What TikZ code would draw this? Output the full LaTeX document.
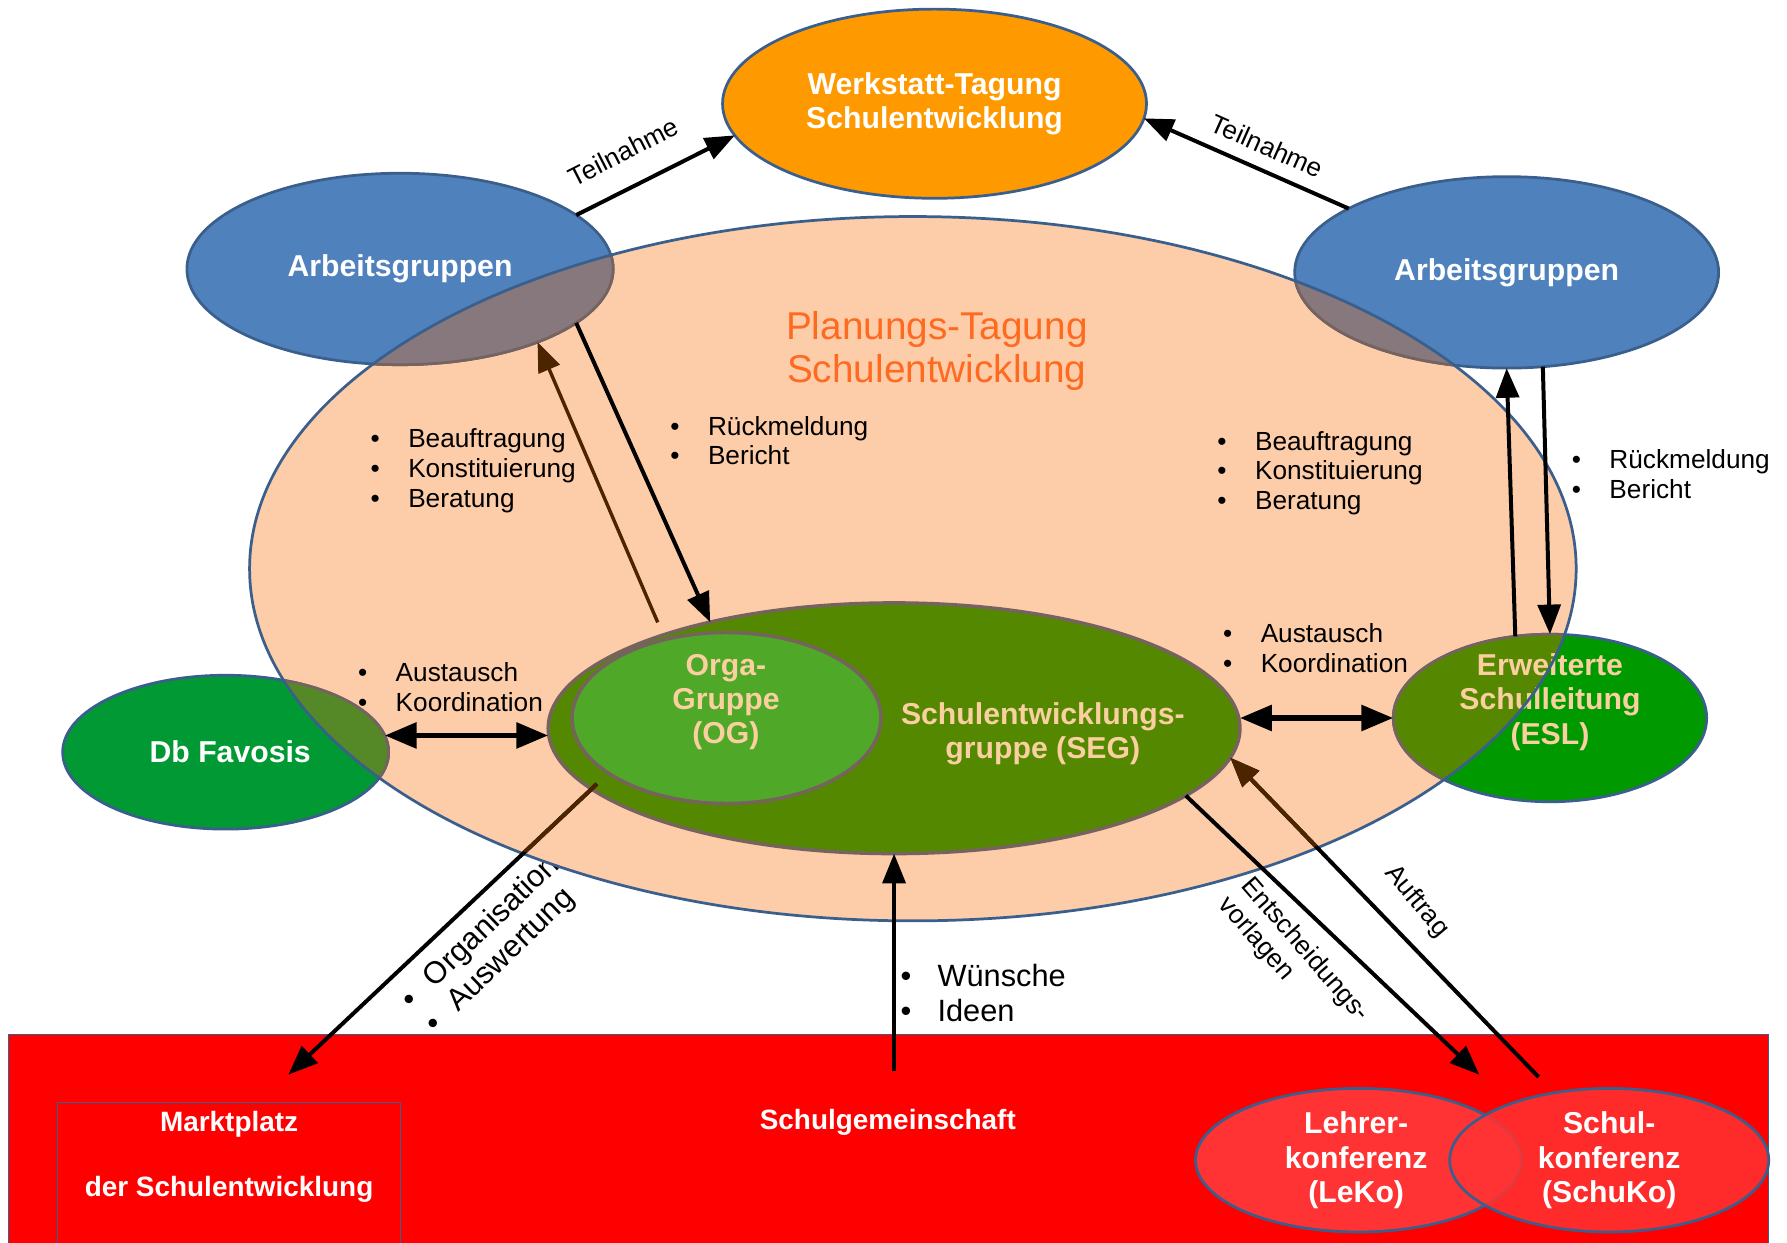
\documentclass[tikz,border=0pt]{standalone}
\usepackage{fontspec}
\setmainfont{Liberation Sans}
\usetikzlibrary{shapes.geometric,arrows.meta}

\definecolor{peach}{HTML}{FDCCA8}
\definecolor{agblue}{HTML}{4F81BD}
\definecolor{edgeblue}{HTML}{3A5F8C}
\definecolor{inedge}{HTML}{76625E}
\definecolor{mauve}{HTML}{87787E}
\definecolor{wsorange}{HTML}{FF9900}
\definecolor{dbgreen}{HTML}{009933}
\definecolor{eslgreen}{HTML}{009900}
\definecolor{dbolive}{HTML}{558826}
\definecolor{eslolive}{HTML}{558800}
\definecolor{segolive}{HTML}{548800}
\definecolor{oggreen}{HTML}{50A828}
\definecolor{segtext}{HTML}{FAD0A0}
\definecolor{konfred}{HTML}{FF3333}
\definecolor{planorange}{HTML}{FF6A21}
\definecolor{arrbrown}{HTML}{4D2400}

\newcommand{\bigb}{\fontsize{26.5}{30}\selectfont\bfseries}
\newcommand{\midb}{\fontsize{24.5}{28}\selectfont\bfseries}
\newcommand{\lst}{\fontsize{23}{26}\selectfont}
\newcommand{\lstbig}{\fontsize{27}{30}\selectfont}
\newcommand{\blist}[2][25pt]{\begin{tabular}[t]{@{}l@{\hspace{#1}}l@{}}#2\end{tabular}}

\tikzset{
  blob/.style={ellipse, inner sep=0pt, outer sep=0pt, line width=2.4pt, draw=edgeblue},
  whitetxt/.style={text=white, font=\bigb, align=center},
  segtxt/.style={text=segtext, font=\bigb, align=center},
  lbl/.style={font=\lst, inner sep=0pt},
  arr/.style={-{Triangle[length=26pt,width=20pt]}, line width=3.5pt},
  brownarr/.style={arr, draw=arrbrown, line width=3pt},
  dbl/.style={{Triangle[length=28pt,width=22pt]}-{Triangle[length=28pt,width=22pt]}, line width=5pt},
}

\begin{document}
\begin{tikzpicture}[x=1pt, y=-1pt]
  \useasboundingbox[fill=white] (0,0) rectangle (1568,1090);

  % Schulgemeinschaft at the bottom
  \node[draw=edgeblue, line width=1pt, fill=red, minimum width=1544pt, minimum height=200pt,
        anchor=north west, inner sep=0pt] (sg) at (7,907) {};
  \node[draw=edgeblue, line width=1pt, minimum width=301pt, minimum height=160pt,
        anchor=north west, inner sep=0pt] (mkt) at (50,967) {};
  \node[whitetxt, font=\midb] (sg-t) at (779,985) {Schulgemeinschaft};
  \node[whitetxt, font=\midb] (mkt-t) at (201,1015) {Marktplatz\\[29pt]der Schulentwicklung};

  % Konferenzen
  \node[blob, fill=konfred, minimum width=286pt, minimum height=126pt] (lk) at (1192,1018) {};
  \node[blob, fill=konfred, fill opacity=0.85, minimum width=280pt, minimum height=126pt] (sk) at (1412,1018) {};
  \node[whitetxt] (lk-t) at (1190,1018) {Lehrer-\\konferenz\\(LeKo)};
  \node[whitetxt] (sk-t) at (1412,1018) {Schul-\\konferenz\\(SchuKo)};

  % label lies partly under the Planungs-Tagung
  \node[font=\lstbig, rotate=44, inner sep=0pt] (orga) at (433,830)
    {\blist[18pt]{•&Organisation\\•&Auswertung}};

  % Werkstatt-Tagung
  \node[blob, fill=wsorange, minimum width=372pt, minimum height=166pt, whitetxt] (ws) at (820,91)
    {Werkstatt-Tagung\\Schulentwicklung};

  % Planungs-Tagung, border comes later
  \node[blob, draw=none, fill=peach, minimum width=1164pt, minimum height=618pt] (pt) at (801,499) {};

  \node[blob, fill=agblue, minimum width=374pt, minimum height=168pt, whitetxt] (agl) at (351,236) {Arbeitsgruppen};
  \node[blob, fill=agblue, minimum width=372pt, minimum height=168pt, whitetxt] (agr) at (1322,239) {Arbeitsgruppen};
  \node[blob, fill=dbgreen, minimum width=286pt, minimum height=135pt, whitetxt] (db) at (198,660) {\hspace{8pt}Db Favosis};
  \node[blob, fill=eslgreen, minimum width=275pt, minimum height=147pt] (esl) at (1360,630) {};

  % where they lie on the Planungs-Tagung
  \begin{scope}
    \clip (pt.center) ellipse [x radius=582pt, y radius=309pt];
    \foreach \n/\rx/\ry/\c in {agl/187/84/mauve, agr/186/84/mauve, db/143/67.5/dbolive, esl/137.5/73.5/eslolive}
      \filldraw[fill=\c, draw=inedge, line width=2.4pt] (\n.center) ellipse [x radius=\rx pt, y radius=\ry pt];
  \end{scope}
  \node[segtxt] (esl-t) at (1360,616) {Erweiterte\\Schulleitung\\(ESL)};
  \draw[edgeblue, line width=2.4pt] (pt.center) ellipse [x radius=582pt, y radius=309pt];
  \node[text=planorange, font=\fontsize{34}{38}\selectfont, align=center] (pt-t) at (822,308)
    {Planungs-Tagung\\Schulentwicklung};

  % SEG with the Orga-Gruppe
  \node[blob, draw=inedge, line width=3pt, fill=segolive, minimum width=607pt, minimum height=220pt] (seg) at (784.5,639) {};
  \node[blob, draw=inedge, line width=3pt, fill=oggreen, minimum width=271pt, minimum height=150pt] (og) at (637.5,630) {};
  \node[segtxt] (og-t) at (637,616) {Orga-\\Gruppe\\(OG)};
  \node[segtxt] (seg-t) at (915,644) {Schulentwicklungs-\\gruppe (SEG)};

  % lists
  \node[lbl, anchor=base west] (bl1) at (325,393) {\blist{•&Beauftragung\\•&Konstituierung\\•&Beratung}};
  \node[lbl, anchor=base west] (rm1) at (588,382) {\blist{•&Rückmeldung\\•&Bericht}};
  \node[lbl, anchor=base west] (bl2) at (1068,395) {\blist{•&Beauftragung\\•&Konstituierung\\•&Beratung}};
  \node[lbl, anchor=base west] (rm2) at (1379,411) {\blist{•&Rückmeldung\\•&Bericht}};
  \node[lbl, anchor=base west] (ak1) at (314,598) {\blist{•&Austausch\\•&Koordination}};
  \node[lbl, anchor=base west] (ak2) at (1073,564) {\blist{•&Austausch\\•&Koordination}};
  \node[lbl, font=\lstbig, anchor=base west] (wi) at (790,866) {\blist[23pt]{•&Wünsche\\•&Ideen}};
  \node[lbl, rotate=27] (tn1) at (547,133) {Teilnahme};
  \node[lbl, rotate=-24] (tn2) at (1112,128) {Teilnahme};
  \node[lbl, rotate=-49, align=left] (esv) at (1135,842) {Entscheidungs-\\vorlagen};
  \node[lbl, rotate=-50] (auf) at (1243,791) {Auftrag};

  % connectors
  \draw[arr] (agl.17) -- (ws.189);
  \draw[arr] (agr.158) -- (ws.-4);
  \draw[brownarr, shorten <=12pt] (seg.158) -- (agl.332);
  \draw[arr] (agl.-17) -- (seg.150);
  \draw[arr] (esl.113) -- (agr.south);
  \draw[arr] (agr.-69) -- (esl.north);
  \draw[dbl] (db.6) -- (db.6 -| seg.west);
  \draw[dbl] (seg.east |- esl.west) -- (esl.west);
  \draw[arr, shorten <=14pt] (og.205) -- ([shift={(52pt,24pt)}]mkt.north);
  \draw[arr] (seg.-13) -- ([shift={(106pt,12pt)}]lk.north);
  \draw[arr] ([shift={(-62pt,10pt)}]sk.north) -- (seg.-5);
  \draw[arr] ([yshift=-33pt]sg.north -| seg.south) -- (seg.south);
  % inside the Planungs-Tagung these two are brown
  \begin{scope}
    \clip (pt.center) ellipse [x radius=580pt, y radius=307pt];
    \draw[brownarr, line width=3.5pt, shorten <=14pt] (og.205) -- ([shift={(52pt,24pt)}]mkt.north);
    \draw[brownarr, line width=3.5pt] ([shift={(-62pt,10pt)}]sk.north) -- (seg.-5);
  \end{scope}
\end{tikzpicture}
\end{document}
